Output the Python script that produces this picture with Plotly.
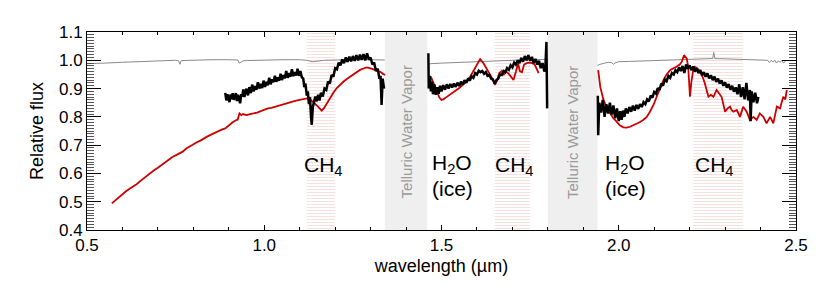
import plotly.graph_objects as go

# ---------------- data ----------------
# Telluric (gray) spectrum, three segments
gray_w1 = [0.500, 0.520, 0.550, 0.600, 0.650, 0.700, 0.750, 0.758, 0.762, 0.766, 0.800, 0.850,
           0.900, 0.925, 0.930, 0.935, 0.940, 0.950, 1.000, 1.050, 1.100, 1.120, 1.135, 1.150,
           1.170, 1.200, 1.250, 1.300, 1.340]
gray_f1 = [0.988, 0.988, 0.990, 0.993, 0.996, 0.999, 1.000, 0.999, 0.986, 0.999, 1.001, 1.002,
           1.002, 1.001, 0.990, 0.995, 0.998, 0.999, 1.001, 1.002, 1.002, 1.000, 0.995, 0.997,
           1.000, 1.001, 1.002, 1.002, 1.001]
gray_w2 = [1.462, 1.470, 1.500, 1.550, 1.600, 1.650, 1.700, 1.750, 1.800]
gray_f2 = [0.985, 0.988, 0.990, 0.993, 0.996, 0.998, 1.000, 1.002, 1.003]
gray_w3 = [1.940, 1.945, 1.960, 1.970, 1.980, 1.985, 1.990, 2.000, 2.030, 2.060, 2.100, 2.150,
           2.200, 2.250, 2.265, 2.268, 2.271, 2.300, 2.350, 2.400, 2.420, 2.425, 2.430, 2.435,
           2.440, 2.445, 2.450, 2.455, 2.460, 2.465, 2.470]
gray_f3 = [0.982, 0.985, 0.990, 0.993, 0.992, 0.986, 0.991, 0.995, 0.996, 0.997, 0.999, 1.001,
           1.003, 1.005, 1.006, 1.028, 1.006, 1.005, 1.004, 1.001, 1.000, 0.992, 1.000, 0.994,
           1.001, 0.990, 0.998, 0.993, 0.999, 0.990, 0.997]

# Red spectrum
red_w1 = [0.570, 0.580, 0.590, 0.600, 0.610, 0.620, 0.630, 0.640, 0.650, 0.660, 0.670, 0.680,
          0.690, 0.700, 0.710, 0.720, 0.730, 0.740, 0.750, 0.760, 0.770, 0.780, 0.790, 0.800,
          0.810, 0.820, 0.830, 0.840, 0.850, 0.860, 0.870, 0.880, 0.890, 0.900, 0.910, 0.920,
          0.925, 0.930, 0.935, 0.940, 0.950, 0.960, 0.970, 0.980, 0.990, 1.000, 1.010, 1.020,
          1.030, 1.040, 1.050, 1.060, 1.070, 1.080, 1.090, 1.100, 1.110, 1.120, 1.130, 1.138,
          1.148, 1.155, 1.162, 1.168, 1.175, 1.185, 1.195, 1.204, 1.213, 1.223, 1.232, 1.242,
          1.252, 1.261, 1.270, 1.280, 1.289, 1.298, 1.308, 1.318, 1.327, 1.335, 1.341]
red_f1 = [0.494, 0.505, 0.516, 0.528, 0.537, 0.546, 0.553, 0.562, 0.573, 0.583, 0.593, 0.604,
          0.612, 0.620, 0.630, 0.640, 0.648, 0.657, 0.664, 0.670, 0.677, 0.688, 0.696, 0.703,
          0.710, 0.716, 0.725, 0.731, 0.737, 0.744, 0.750, 0.755, 0.759, 0.770, 0.780, 0.788,
          0.790, 0.812, 0.806, 0.810, 0.806, 0.810, 0.812, 0.815, 0.820, 0.826, 0.830, 0.832,
          0.836, 0.840, 0.844, 0.848, 0.851, 0.854, 0.857, 0.859, 0.862, 0.865, 0.860, 0.853,
          0.841, 0.830, 0.822, 0.830, 0.845, 0.865, 0.885, 0.901, 0.913, 0.924, 0.933, 0.942,
          0.951, 0.960, 0.966, 0.971, 0.975, 0.972, 0.968, 0.963, 0.959, 0.952, 0.948]
red_w2 = [1.470, 1.476, 1.482, 1.488, 1.494, 1.500, 1.505, 1.512, 1.520, 1.530, 1.540, 1.550,
          1.560, 1.570, 1.580, 1.590, 1.600, 1.609, 1.618, 1.627, 1.636, 1.645, 1.651, 1.657,
          1.663, 1.670, 1.676, 1.682, 1.690, 1.697, 1.703, 1.710, 1.716, 1.721, 1.727, 1.733,
          1.740, 1.748, 1.756, 1.763, 1.770, 1.774]
red_f2 = [0.942, 0.925, 0.905, 0.885, 0.868, 0.860, 0.862, 0.868, 0.876, 0.885, 0.893, 0.902,
          0.912, 0.924, 0.940, 0.962, 0.985, 1.004, 0.990, 0.970, 0.952, 0.932, 0.913, 0.930,
          0.955, 0.962, 0.950, 0.960, 0.952, 0.938, 0.930, 0.960, 0.989, 0.962, 0.958, 0.985,
          0.990, 0.992, 0.990, 0.985, 0.968, 0.955]
red_w3 = [1.942, 1.948, 1.957, 1.966, 1.976, 1.985, 1.994, 2.003, 2.013, 2.022, 2.032, 2.041,
          2.051, 2.060, 2.069, 2.079, 2.088, 2.098, 2.107, 2.117, 2.126, 2.135, 2.145, 2.154,
          2.163, 2.172, 2.178, 2.184, 2.188, 2.192, 2.196, 2.199, 2.201, 2.205, 2.210, 2.215,
          2.222, 2.230, 2.237, 2.243, 2.248, 2.253, 2.260, 2.267, 2.276, 2.283, 2.290, 2.295,
          2.300, 2.307, 2.314, 2.318, 2.323, 2.333, 2.342, 2.351, 2.361, 2.370, 2.380, 2.389,
          2.398, 2.408, 2.417, 2.427, 2.436, 2.446, 2.455, 2.464, 2.470, 2.474]
red_f3 = [0.965, 0.905, 0.860, 0.832, 0.812, 0.795, 0.783, 0.770, 0.763, 0.762, 0.765, 0.770,
          0.777, 0.782, 0.789, 0.800, 0.818, 0.842, 0.871, 0.902, 0.930, 0.950, 0.965, 0.972,
          0.977, 0.985, 0.995, 1.018, 1.012, 1.006, 0.975, 0.930, 0.871, 0.925, 0.965, 0.977,
          0.970, 0.958, 0.940, 0.918, 0.895, 0.871, 0.878, 0.871, 0.895, 0.885, 0.871, 0.845,
          0.818, 0.830, 0.836, 0.825, 0.818, 0.824, 0.800, 0.836, 0.818, 0.789, 0.800, 0.789,
          0.812, 0.800, 0.777, 0.800, 0.777, 0.836, 0.830, 0.871, 0.862, 0.895]

# Black spectrum
blk_w1 = [0.890, 0.893, 0.896, 0.899, 0.902, 0.905, 0.908, 0.911, 0.914, 0.917, 0.920, 0.923,
          0.926, 0.929, 0.932, 0.935, 0.938, 0.941, 0.944, 0.947, 0.950, 0.954, 0.958, 0.962,
          0.966, 0.970, 0.974, 0.978, 0.982, 0.986, 0.990, 0.994, 0.998, 1.002, 1.006, 1.010,
          1.014, 1.018, 1.022, 1.026, 1.030, 1.034, 1.038, 1.042, 1.046, 1.050, 1.054, 1.058,
          1.062, 1.066, 1.070, 1.074, 1.078, 1.082, 1.086, 1.090, 1.094, 1.098, 1.102, 1.106,
          1.110, 1.113, 1.116, 1.120, 1.123, 1.126, 1.129, 1.132, 1.134, 1.137, 1.140, 1.144,
          1.148, 1.152, 1.156, 1.160, 1.165, 1.170, 1.175, 1.180, 1.185, 1.190, 1.195, 1.200,
          1.205, 1.210, 1.215, 1.220, 1.225, 1.230, 1.235, 1.240, 1.245, 1.250, 1.255, 1.260,
          1.265, 1.270, 1.275, 1.280, 1.285, 1.290, 1.295, 1.300, 1.305, 1.310, 1.315, 1.320,
          1.325, 1.328, 1.331, 1.334, 1.338]
blk_f1 = [0.885, 0.858, 0.880, 0.866, 0.852, 0.879, 0.862, 0.884, 0.860, 0.870, 0.884, 0.856,
          0.878, 0.866, 0.848, 0.880, 0.872, 0.897, 0.870, 0.890, 0.899, 0.876, 0.905, 0.884,
          0.914, 0.890, 0.909, 0.896, 0.922, 0.900, 0.917, 0.902, 0.928, 0.906, 0.924, 0.912,
          0.938, 0.915, 0.933, 0.922, 0.945, 0.924, 0.940, 0.928, 0.952, 0.930, 0.948, 0.936,
          0.962, 0.938, 0.955, 0.942, 0.968, 0.944, 0.958, 0.946, 0.970, 0.945, 0.962, 0.940,
          0.935, 0.905, 0.918, 0.875, 0.890, 0.845, 0.870, 0.800, 0.772, 0.835, 0.850, 0.872,
          0.855, 0.878, 0.858, 0.885, 0.872, 0.900, 0.895, 0.925, 0.918, 0.948, 0.942, 0.972,
          0.968, 0.992, 0.982, 1.003, 0.990, 1.010, 0.994, 1.013, 0.996, 1.015, 0.998, 1.018,
          1.000, 1.020, 1.002, 1.022, 1.000, 1.025, 1.002, 1.010, 0.985, 0.992, 0.962, 0.970,
          0.935, 0.945, 0.842, 0.935, 0.900]
blk_w2 = [1.463, 1.464, 1.467, 1.470, 1.473, 1.476, 1.480, 1.484, 1.488, 1.492, 1.496, 1.500,
          1.505, 1.510, 1.515, 1.520, 1.525, 1.530, 1.535, 1.540, 1.545, 1.550, 1.555, 1.560,
          1.565, 1.570, 1.575, 1.580, 1.585, 1.590, 1.595, 1.600, 1.605, 1.610, 1.615, 1.620,
          1.625, 1.630, 1.635, 1.640, 1.645, 1.650, 1.655, 1.660, 1.665, 1.670, 1.675, 1.680,
          1.685, 1.690, 1.695, 1.700, 1.705, 1.710, 1.715, 1.720, 1.725, 1.730, 1.735, 1.740,
          1.745, 1.750, 1.755, 1.760, 1.765, 1.770, 1.775, 1.780, 1.785, 1.790, 1.793, 1.796,
          1.798]
blk_f2 = [1.025, 0.900, 0.945, 0.890, 0.925, 0.880, 0.915, 0.878, 0.905, 0.882, 0.910, 0.890,
          0.912, 0.896, 0.915, 0.900, 0.916, 0.904, 0.918, 0.906, 0.921, 0.909, 0.924, 0.914,
          0.930, 0.920, 0.936, 0.928, 0.944, 0.938, 0.955, 0.950, 0.963, 0.958, 0.962, 0.952,
          0.958, 0.945, 0.948, 0.935, 0.932, 0.918, 0.930, 0.935, 0.950, 0.948, 0.962, 0.958,
          0.972, 0.966, 0.982, 0.975, 0.992, 0.985, 1.000, 0.990, 1.008, 0.995, 1.015, 1.000,
          1.018, 0.998, 1.012, 0.990, 1.005, 0.985, 0.998, 0.972, 0.990, 0.960, 0.975, 1.065,
          0.830]
blk_w3 = [1.941, 1.942, 1.945, 1.950, 1.955, 1.960, 1.965, 1.970, 1.975, 1.980, 1.985, 1.990,
          1.995, 2.000, 2.004, 2.008, 2.012, 2.016, 2.020, 2.025, 2.030, 2.035, 2.040, 2.045,
          2.050, 2.055, 2.060, 2.065, 2.070, 2.075, 2.080, 2.085, 2.090, 2.095, 2.100, 2.105,
          2.110, 2.115, 2.120, 2.125, 2.130, 2.135, 2.140, 2.145, 2.150, 2.155, 2.160, 2.165,
          2.170, 2.175, 2.180, 2.185, 2.190, 2.195, 2.200, 2.205, 2.210, 2.215, 2.220, 2.225,
          2.230, 2.235, 2.240, 2.245, 2.250, 2.255, 2.260, 2.265, 2.270, 2.275, 2.280, 2.285,
          2.290, 2.295, 2.300, 2.305, 2.310, 2.315, 2.320, 2.325, 2.330, 2.335, 2.340, 2.345,
          2.350, 2.355, 2.360, 2.365, 2.370, 2.372, 2.375, 2.380, 2.385, 2.390, 2.394]
blk_f3 = [0.875, 0.735, 0.850, 0.815, 0.860, 0.800, 0.845, 0.812, 0.850, 0.808, 0.840, 0.795,
          0.830, 0.785, 0.820, 0.790, 0.822, 0.800, 0.830, 0.812, 0.835, 0.818, 0.840, 0.822,
          0.842, 0.828, 0.845, 0.835, 0.852, 0.845, 0.862, 0.855, 0.875, 0.868, 0.888, 0.882,
          0.902, 0.895, 0.918, 0.910, 0.932, 0.926, 0.945, 0.938, 0.955, 0.950, 0.965, 0.958,
          0.975, 0.962, 0.980, 0.955, 0.985, 0.970, 0.982, 0.965, 0.978, 0.960, 0.972, 0.955,
          0.965, 0.948, 0.958, 0.942, 0.954, 0.936, 0.947, 0.930, 0.942, 0.924, 0.935, 0.918,
          0.929, 0.910, 0.922, 0.903, 0.916, 0.896, 0.910, 0.889, 0.904, 0.880, 0.915, 0.870,
          0.905, 0.862, 0.920, 0.858, 0.895, 0.785, 0.890, 0.852, 0.885, 0.848, 0.870]

# Marked regions (wavelength ranges)
ch4_bands = [(1.12, 1.20), (1.65, 1.75), (2.21, 2.35)]
telluric_bands = [(1.34, 1.46), (1.80, 1.94)]

# Labels
ch4_label_x = [1.167, 1.707, 2.271]
h2o_label_x = [1.530, 2.019]
telluric_label = "Telluric Water Vapor"

x_ticks = [0.5, 1.0, 1.5, 2.0, 2.5]
y_ticks = [0.4, 0.5, 0.6, 0.7, 0.8, 0.9, 1.0, 1.1]

# ---------------- figure ----------------
FONT = "Liberation Sans, Arial, Helvetica, sans-serif"
fig = go.Figure()
y_lo, y_hi = 0.4, 1.1

# hatched CH4 regions
for a, b in ch4_bands:
    fig.add_trace(go.Scatter(
        x=[a, b, b, a, a], y=[y_lo, y_lo, y_hi, y_hi, y_lo], mode="lines",
        fill="toself", fillcolor="rgba(0,0,0,0)",
        fillpattern=dict(shape="-", fgcolor="rgba(215,120,120,0.45)",
                         bgcolor="rgba(0,0,0,0)", size=3, solidity=0.33),
        line=dict(width=0), hoverinfo="skip", showlegend=False))

# telluric bands
for a, b in telluric_bands:
    fig.add_shape(type="rect", xref="x", yref="y", x0=a, x1=b, y0=y_lo, y1=y_hi,
                  fillcolor="#efefef", line=dict(width=0), layer="below")
    fig.add_annotation(x=(a + b) / 2, y=0.745, text=telluric_label, textangle=-90,
                       showarrow=False, font=dict(family=FONT, size=15, color="#9a9a9a"))

for w, f in [(gray_w1, gray_f1), (gray_w2, gray_f2), (gray_w3, gray_f3)]:
    fig.add_trace(go.Scatter(x=w, y=f, mode="lines", line=dict(color="#8a8a8a", width=1),
                             showlegend=False, hoverinfo="skip"))
for w, f in [(red_w1, red_f1), (red_w2, red_f2), (red_w3, red_f3)]:
    fig.add_trace(go.Scatter(x=w, y=f, mode="lines", line=dict(color="#cc0000", width=1.8),
                             showlegend=False))
for w, f in [(blk_w1, blk_f1), (blk_w2, blk_f2), (blk_w3, blk_f3)]:
    fig.add_trace(go.Scatter(x=w, y=f, mode="lines", line=dict(color="black", width=2.5),
                             showlegend=False))

for xc in ch4_label_x:
    fig.add_annotation(x=xc, y=0.628, text="CH<sub>4</sub>", showarrow=False,
                       font=dict(family=FONT, size=21, color="black"))
for xc in h2o_label_x:
    fig.add_annotation(x=xc, y=0.632, text="H<sub>2</sub>O", showarrow=False,
                       font=dict(family=FONT, size=21, color="black"))
    fig.add_annotation(x=xc, y=0.548, text="(ice)", showarrow=False,
                       font=dict(family=FONT, size=21, color="black"))

fig.update_xaxes(range=[0.5, 2.5], tickvals=x_ticks, ticktext=[f"{t:.1f}" for t in x_ticks],
                 ticks="inside", ticklen=5, tickwidth=1, tickcolor="black",
                 minor=dict(dtick=0.1, ticks="inside", ticklen=3, tickcolor="black"),
                 showline=True, linecolor="black", linewidth=1, mirror="allticks",
                 showgrid=False, zeroline=False, automargin=False,
                 tickfont=dict(family=FONT, size=17, color="black"),
                 title=dict(text="wavelength (µm)", font=dict(family=FONT, size=18, color="black"),
                            standoff=4))
fig.update_yaxes(range=[y_lo, y_hi], tickvals=y_ticks, ticktext=[f"{t:.1f}" for t in y_ticks],
                 ticks="inside", ticklen=14, tickwidth=1, tickcolor="black",
                 minor=dict(dtick=0.01, ticks="inside", ticklen=7, tickcolor="#555"),
                 showline=True, linecolor="black", linewidth=1, mirror="allticks",
                 showgrid=False, zeroline=False, automargin=False,
                 tickfont=dict(family=FONT, size=17, color="black"),
                 title=dict(text="Relative flux", font=dict(family=FONT, size=18, color="black"),
                            standoff=10))
# page is drawn with an 8 px body margin, so the figure is shrunk/shifted to compensate
fig.update_layout(width=822, height=291, margin=dict(l=79, r=34, t=24, b=69),
                  plot_bgcolor="white", paper_bgcolor="white", showlegend=False)
fig.write_html("out.html")
